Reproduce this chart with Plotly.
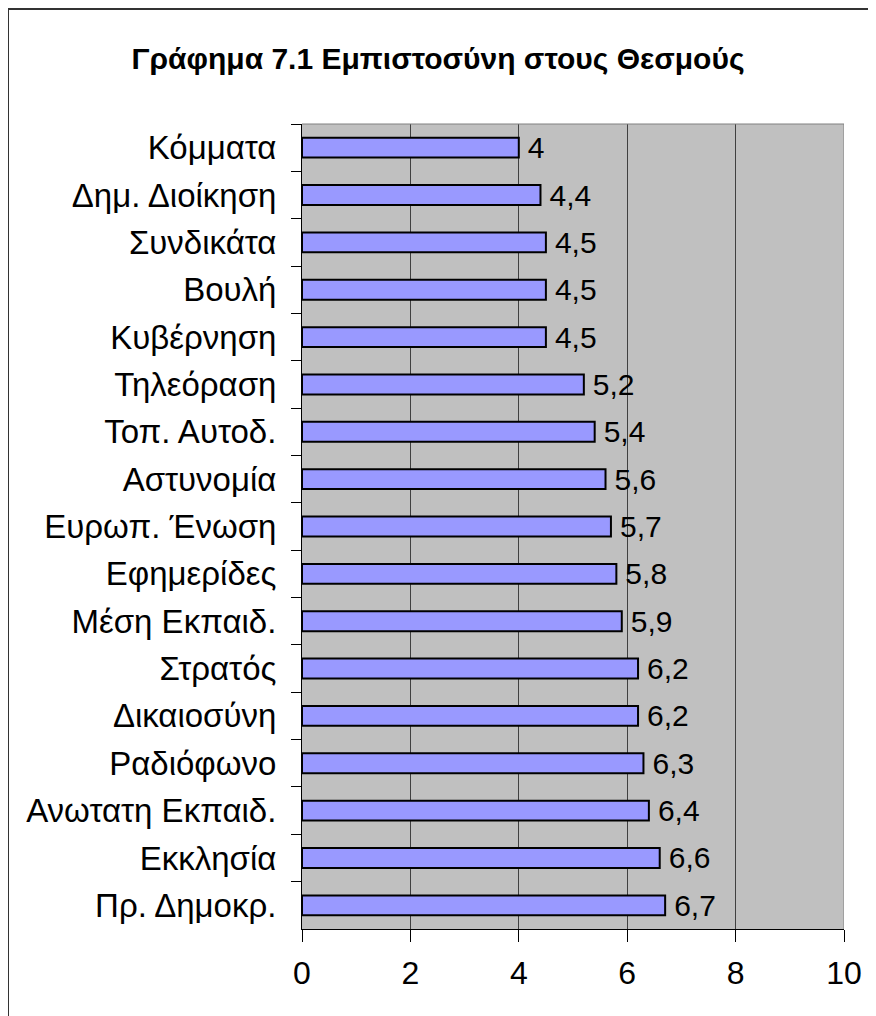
import plotly.graph_objects as go

categories = ["Κόμματα", "Δημ. Διοίκηση", "Συνδικάτα", "Βουλή", "Κυβέρνηση",
              "Τηλεόραση", "Τοπ. Αυτοδ.", "Αστυνομία", "Ευρωπ. Ένωση", "Εφημερίδες",
              "Μέση Εκπαιδ.", "Στρατός", "Δικαιοσύνη", "Ραδιόφωνο",
              "Ανωτατη Εκπαιδ.", "Εκκλησία", "Πρ. Δημοκρ."]
values = [4, 4.4, 4.5, 4.5, 4.5, 5.2, 5.4, 5.6, 5.7, 5.8, 5.9, 6.2, 6.2, 6.3, 6.4, 6.6, 6.7]
x_ticks = [0, 2, 4, 6, 8, 10]
title = "Γράφημα 7.1 Εμπιστοσύνη στους Θεσμούς"

FONT = "Liberation Sans, Arial, sans-serif"

labels = ["\u2009" + ("%g" % v).replace(".", ",") for v in values]

fig = go.Figure(go.Bar(
    x=values, y=categories, orientation="h",
    width=0.42,
    marker=dict(color="#9999FF", line=dict(color="black", width=2)),
    text=labels, textposition="outside", cliponaxis=False, constraintext="none",
    textfont=dict(family=FONT, size=30, color="black"),
    hoverinfo="skip",
))

# page has an 8px body margin; figure sized so it fits the 876x1016 window
W, H = 868, 1008
L, R, T, B = 294, 32, 116, 87
pw, ph = W - L - R, H - T - B

def px_x(p):
    return (p - L) / pw

def px_y(p):
    return (H - B - p) / ph

fig.update_layout(
    width=W, height=H,
    margin=dict(l=L, r=R, t=T, b=B),
    paper_bgcolor="white", plot_bgcolor="#C0C0C0",
    showlegend=False,
    font=dict(family=FONT, color="black"),
    title=dict(text="<b>" + title + "</b>", x=430 / W, xanchor="center",
               y=1 - 50 / H, yanchor="middle",
               font=dict(family=FONT, size=30, color="black")),
    xaxis=dict(range=[0, 10], tickvals=x_ticks, ticks="outside", ticklen=12,
               tickcolor="black", tickwidth=1,
               showgrid=True, gridcolor="#404040", gridwidth=1,
               showline=True, linecolor="black", linewidth=1, mirror=False,
               zeroline=False, tickfont=dict(family=FONT, size=32, color="black"),
               ticklabelstandoff=4, fixedrange=True),
    yaxis=dict(autorange="reversed", ticks="outside", ticklen=10, tickson="boundaries",
               tickcolor="black", tickwidth=1, showline=True, linecolor="black",
               linewidth=1, showgrid=False,
               tickfont=dict(family=FONT, size=33, color="black"),
               ticklabelstandoff=18, fixedrange=True),
    shapes=[
        dict(type="line", xref="x", yref="paper", x0=10, x1=10, y0=0, y1=1,
             line=dict(color="#808080", width=1)),
        dict(type="line", xref="x", yref="paper", x0=0, x1=10, y0=1, y1=1,
             line=dict(color="#808080", width=1)),
        dict(type="rect", xref="paper", yref="paper",
             x0=px_x(0), x1=px_x(W + 10), y0=px_y(H + 10), y1=px_y(1),
             line=dict(color="#333333", width=2), fillcolor="rgba(0,0,0,0)",
             layer="above"),
    ],
)

fig.write_html("out.html")
